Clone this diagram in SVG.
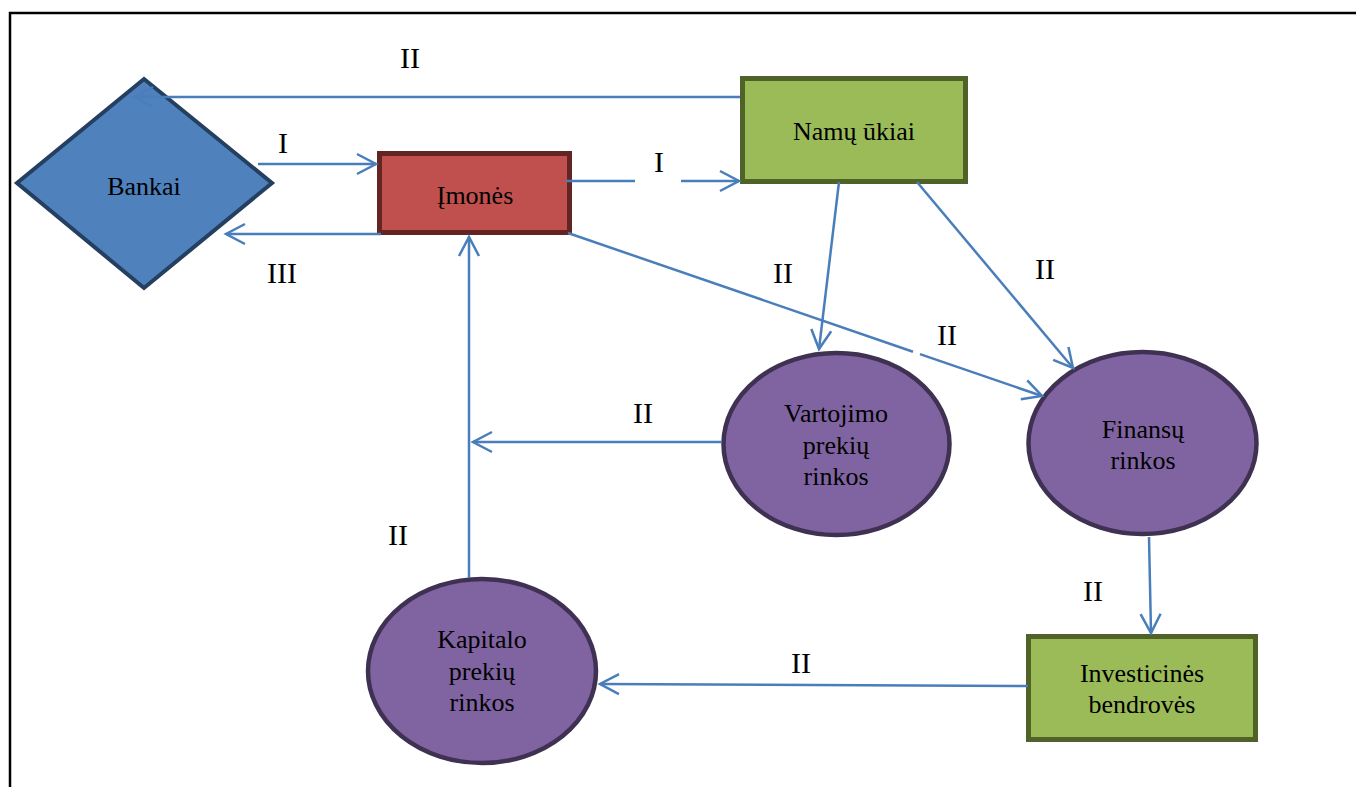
<svg xmlns="http://www.w3.org/2000/svg" width="1356" height="787" viewBox="0 0 1356 787">
  <style>
    .bg { fill: #ffffff; }
    .frame { stroke: #000000; stroke-width: 2.5; fill: none; }
    .node-text { font-family: "Liberation Serif", "Times New Roman", serif; font-size: 26px; fill: #000000; text-anchor: middle; }
    .label { font-family: "Liberation Serif", "Times New Roman", serif; font-size: 30px; fill: #000000; text-anchor: middle; }
    .conn { stroke: #4A7EBB; stroke-width: 2.5; fill: none; }
    .arrow { stroke: #4A7EBB; stroke-width: 2.5; fill: none; }
    .bank { fill: #4F81BD; stroke: #243F60; stroke-width: 4; }
    .firm { fill: #C0504D; stroke: #632523; stroke-width: 5; }
    .green { fill: #9BBB59; stroke: #4F6228; stroke-width: 5; }
    .market { fill: #8064A2; stroke: #3F3151; stroke-width: 4.5; }
  </style>
  <defs>
    <marker id="open-arrow" markerUnits="userSpaceOnUse" markerWidth="26" markerHeight="26" viewBox="-22 -13 26 26" refX="0" refY="0" orient="auto">
      <path class="arrow" d="M-19,-10 L0,0 L-19,10"/>
    </marker>
  </defs>

  <rect class="bg" x="0" y="0" width="1356" height="787"/>

  <!-- page frame -->
  <path class="frame" d="M10,787 L10,13 L1356,13"/>

  <!-- nodes -->
  <g id="bankai">
    <polygon class="bank" points="144,79 272,183 144,288 17,183"/>
    <text class="node-text" x="144" y="195">Bankai</text>
  </g>
  <g id="imones">
    <rect class="firm" x="379.5" y="153.5" width="190" height="79"/>
    <text class="node-text" x="475" y="204">Įmonės</text>
  </g>
  <g id="namu-ukiai">
    <rect class="green" x="742.5" y="78.5" width="223" height="103"/>
    <text class="node-text" x="854" y="140">Namų ūkiai</text>
  </g>
  <g id="vartojimo-rinkos">
    <ellipse class="market" cx="836.5" cy="444" rx="113" ry="91"/>
    <text class="node-text" x="836" y="422">Vartojimo</text>
    <text class="node-text" x="836" y="454">prekių</text>
    <text class="node-text" x="836" y="485">rinkos</text>
  </g>
  <g id="finansu-rinkos">
    <ellipse class="market" cx="1142.5" cy="443" rx="114" ry="91"/>
    <text class="node-text" x="1143" y="438">Finansų</text>
    <text class="node-text" x="1143" y="469">rinkos</text>
  </g>
  <g id="kapitalo-rinkos">
    <ellipse class="market" cx="482" cy="671" rx="114" ry="92"/>
    <text class="node-text" x="482" y="648">Kapitalo</text>
    <text class="node-text" x="482" y="680">prekių</text>
    <text class="node-text" x="482" y="711">rinkos</text>
  </g>
  <g id="investicines-bendroves">
    <rect class="green" x="1028.5" y="636.5" width="227" height="103"/>
    <text class="node-text" x="1142" y="682">Investicinės</text>
    <text class="node-text" x="1142" y="713">bendrovės</text>
  </g>

  <!-- connectors -->
  <g id="connectors">
    <line class="conn" x1="740" y1="97" x2="134" y2="97" marker-end="url(#open-arrow)"/>
    <line class="conn" x1="258" y1="164" x2="376" y2="164" marker-end="url(#open-arrow)"/>
    <line class="conn" x1="381" y1="234" x2="226" y2="234" marker-end="url(#open-arrow)"/>
    <line class="conn" x1="566" y1="181" x2="635" y2="181"/>
    <line class="conn" x1="681" y1="181" x2="739" y2="181" marker-end="url(#open-arrow)"/>
    <line class="conn" x1="839" y1="182" x2="819" y2="349" marker-end="url(#open-arrow)"/>
    <line class="conn" x1="917" y1="182" x2="1073" y2="368" marker-end="url(#open-arrow)"/>
    <line class="conn" x1="568" y1="233" x2="913" y2="351.7"/>
    <line class="conn" x1="920" y1="354.1" x2="1042" y2="396" marker-end="url(#open-arrow)"/>
    <line class="conn" x1="722" y1="442" x2="473" y2="442" marker-end="url(#open-arrow)"/>
    <line class="conn" x1="469" y1="578" x2="469" y2="237" marker-end="url(#open-arrow)"/>
    <line class="conn" x1="1149" y1="537" x2="1151" y2="633" marker-end="url(#open-arrow)"/>
    <line class="conn" x1="1028" y1="686" x2="600" y2="684" marker-end="url(#open-arrow)"/>
  </g>

  <!-- flow labels -->
  <g id="labels">
    <text class="label" x="410" y="68">II</text>
    <text class="label" x="283" y="153">I</text>
    <text class="label" x="659" y="172">I</text>
    <text class="label" x="282" y="283">III</text>
    <text class="label" x="783" y="283">II</text>
    <text class="label" x="1045" y="279">II</text>
    <text class="label" x="947" y="345">II</text>
    <text class="label" x="643" y="423">II</text>
    <text class="label" x="398" y="545">II</text>
    <text class="label" x="1093" y="601">II</text>
    <text class="label" x="801" y="673">II</text>
  </g>
</svg>
